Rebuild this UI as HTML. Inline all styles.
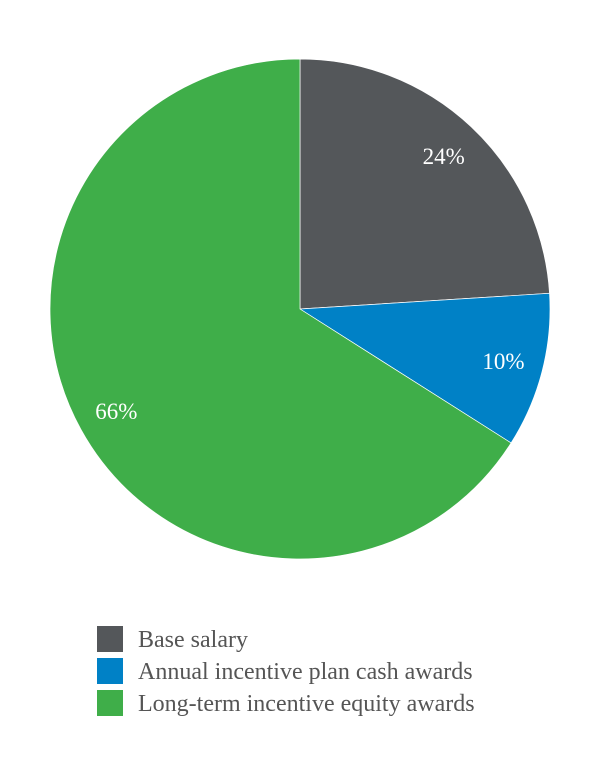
<!DOCTYPE html>
<html><head><meta charset="utf-8"><style>
html,body{margin:0;padding:0;background:#fff;}
svg{display:block;}
</style></head><body>
<svg id="chart" width="600" height="760" xmlns="http://www.w3.org/2000/svg"></svg>
<script>
const categories = ["Base salary", "Annual incentive plan cash awards", "Long-term incentive equity awards"];
const values = [24, 10, 66];
const valueLabels = ["24%", "10%", "66%"];
const colors = ["#54575a", "#0081c6", "#3fae49"];
const labelAngleOverride = [null, null, 241];
const labelRadiusOverride = [null, null, 210];

const svg = document.getElementById('chart');
const NS = "http://www.w3.org/2000/svg";
const cx = 300, cy = 309, R = 250, labelR = 210;
const total = values.reduce((a,b)=>a+b,0);
function pt(angleDeg, r){ const a = angleDeg*Math.PI/180; return [cx + r*Math.sin(a), cy - r*Math.cos(a)]; }
let start = 0;
values.forEach((v,i)=>{
  const sweep = v/total*360;
  const end = start + sweep;
  const [x1,y1] = pt(start,R), [x2,y2] = pt(end,R);
  const p = document.createElementNS(NS,'path');
  p.setAttribute('d', `M${cx},${cy} L${x1},${y1} A${R},${R} 0 ${sweep>180?1:0} 1 ${x2},${y2} Z`);
  p.setAttribute('fill', colors[i]);
  p.setAttribute('stroke', '#fff');
  p.setAttribute('stroke-width', '0.7');
  
  
  svg.appendChild(p);
  const mid = labelAngleOverride[i] !== null ? labelAngleOverride[i] : start + sweep/2;
  const lr = labelRadiusOverride[i] !== null ? labelRadiusOverride[i] : labelR;
  const [lx,ly] = pt(mid, lr);
  const t = document.createElementNS(NS,'text');
  t.setAttribute('x', lx); t.setAttribute('y', ly + 8);
  t.setAttribute('text-anchor','middle');
  t.setAttribute('fill','#fff');
  t.setAttribute('font-family','"Liberation Serif", serif');
  t.setAttribute('font-size','23');
  t.textContent = valueLabels[i];
  
  
  svg.appendChild(t);
  start = end;
});
categories.forEach((c,i)=>{
  const y0 = 626 + i*32;
  const r = document.createElementNS(NS,'rect');
  r.setAttribute('x',97); r.setAttribute('y',y0); r.setAttribute('width',26); r.setAttribute('height',26);
  r.setAttribute('fill',colors[i]);
  
  
  svg.appendChild(r);
  const t = document.createElementNS(NS,'text');
  t.setAttribute('x',138); t.setAttribute('y',y0+21);
  t.setAttribute('fill','#555');
  t.setAttribute('font-family','"Liberation Serif", serif');
  t.setAttribute('font-size','24');
  t.textContent = c;
  
  
  svg.appendChild(t);
});
</script>
</body></html>
